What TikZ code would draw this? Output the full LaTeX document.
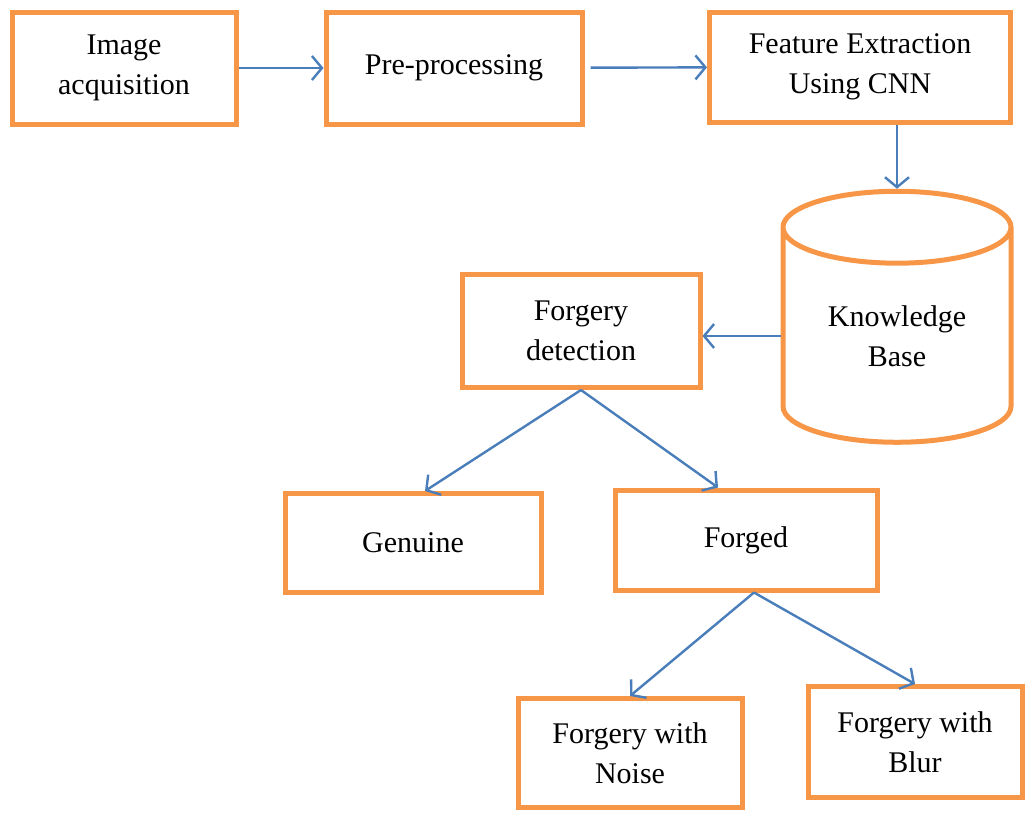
\documentclass[tikz,border=0pt]{standalone}
\usepackage{fontspec}
\setmainfont{Liberation Serif}
\usetikzlibrary{shapes.geometric,arrows.meta}
\definecolor{boxorange}{HTML}{F79646}
\definecolor{flowblue}{HTML}{4A7EBB}
\begin{document}
\begin{tikzpicture}[x=1pt, y=-1pt,
        box/.style = {draw=boxorange, line width=5pt, align=center, inner sep=0pt, font=\fontsize{30}{40}\selectfont},
        flow/.style = {draw=flowblue, line width=2.4pt, -{Straight Barb[length=10pt, width=24pt, line width=2.4pt]}}]
        \useasboundingbox (0,0) rectangle (1025,814);
        \node[box, minimum width=224, minimum height=112] (acq) at (124,68) {Image\\acquisition};
        \node[box, minimum width=256, minimum height=112] (pre) at (454,68) {Pre-processing};
        \node[box, minimum width=301, minimum height=110] (feat) at (860,67) {Feature Extraction\\Using CNN};
        \node[box, cylinder, shape border rotate=90, aspect=0.52, minimum width=228, minimum height=251] (kb) at (897,336) {Knowledge\\Base};
        \node[box, minimum width=238, minimum height=113] (det) at (581,331) {Forgery\\detection};
        \node[box, minimum width=256, minimum height=99] (gen) at (413,543) {Genuine};
        \node[box, minimum width=262, minimum height=100] (forg) at (746,540) {Forged};
        \node[box, minimum width=224, minimum height=109] (noise) at (630,753) {Forgery with\\Noise};
        \node[box, minimum width=214, minimum height=111] (blur) at (915,742) {Forgery with\\Blur};
        \draw[flow] (acq) -- (pre);
        \draw[flow, shorten <=6pt] (pre) -- (feat);
        \draw[flow] (kb.north |- feat.south) -- (kb.north);
        \draw[flow] (kb.west) -- (kb.west -| det.east);
        \draw[flow] (det.south) -- ([xshift=12pt]gen.north);
        \draw[flow] (det.south) -- ([xshift=-28pt]forg.north);
        \draw[flow] ([xshift=8pt]forg.south) -- (noise.north);
        \draw[flow] ([xshift=8pt]forg.south) -- (blur.north);
    \end{tikzpicture}
\end{document}
